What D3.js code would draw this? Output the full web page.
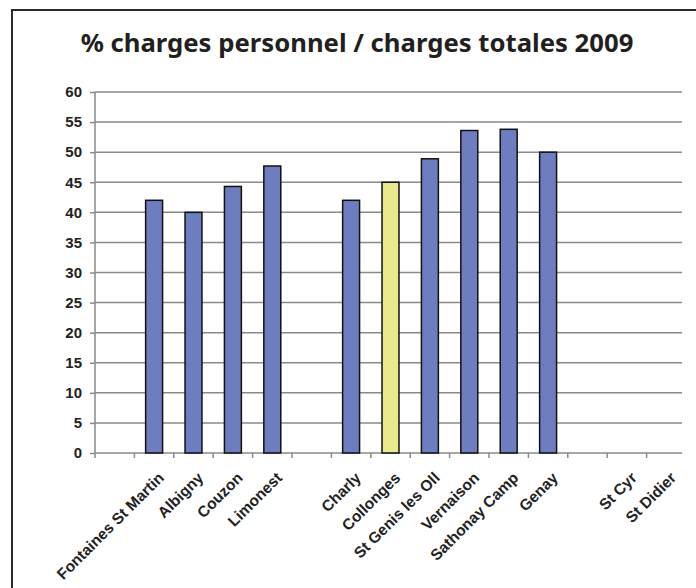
<!DOCTYPE html>
<html>
<head>
<meta charset="utf-8">
<script src="https://cdn.jsdelivr.net/npm/d3@7"></script>
<style>
  html, body { margin: 0; padding: 0; background: #fff; overflow: hidden; }
  svg { display: block; }
</style>
</head>
<body>
<svg></svg>
<script>
const categories = ['', 'Fontaines St Martin', 'Albigny', 'Couzon', 'Limonest', ' ',
  'Charly', 'Collonges', 'St Genis les Oll', 'Vernaison', 'Sathonay Camp', 'Genay', '  ',
  'St Cyr', 'St Didier'];
const values = [null, 42, 40, 44.3, 47.7, null, 42, 45, 48.9, 53.6, 53.8, 50, null, null, null];
const highlighted = ['Collonges'];
const yTicks = [0, 5, 10, 15, 20, 25, 30, 35, 40, 45, 50, 55, 60];

const svg = d3.select('svg')
	.attr('width', 696)
	.attr('height', 588);

const width = +svg.attr('width'),
	height = +svg.attr('height');

const data = categories.map((c, i) => ({ name: c, value: values[i] }));

// outer frame: only left and top edges show, it runs off the page
svg.append('path')
	.attr('d', `M12,${height}V10H${width}`)
	.attr('fill', 'none')
	.attr('stroke', '#2b2b2b')
	.attr('stroke-width', 2);

svg.append('text')
	.attr('x', 357)
	.attr('y', 52)
	.attr('text-anchor', 'middle')
	.attr('font-family', 'Noto Sans')
	.attr('font-weight', 'bold')
	.attr('font-size', 25.7)
	.attr('fill', '#231f20')
	.text('% charges personnel / charges totales 2009');

const margin = { top: 92, left: 95 },
	innerWidth = 591,
	innerHeight = 361;

const xScale = d3.scaleBand()
	.domain(categories)
	.range([0, innerWidth])
	.paddingInner(0.57)
	.paddingOuter(0.285);

const yScale = d3.scaleLinear()
	.domain([0, 60])
	.range([innerHeight, 0]);

const g = svg.append('g')
	.attr('transform', `translate(${margin.left}, ${margin.top})`);

// gridlines
g.selectAll('.grid')
	.data(yTicks.slice(1))
	.enter()
	.append('line')
		.attr('x1', 0)
		.attr('x2', innerWidth - 4)
		.attr('y1', d => yScale(d))
		.attr('y2', d => yScale(d))
		.attr('stroke', '#8a8a8a')
		.attr('stroke-width', 1.5);

const yAxis = d3.axisLeft(yScale)
	.tickValues(yTicks)
	.tickSize(5)
	.tickPadding(8);

const yAxisG = g.append('g').call(yAxis);
yAxisG.selectAll('path, line').attr('stroke', '#8a8a8a').attr('stroke-width', 1.5);
yAxisG.select('.domain').attr('d', `M0,${innerHeight}V0`);
yAxisG.selectAll('text')
	.attr('font-family', 'Liberation Sans, Arial')
	.attr('font-weight', 'bold')
	.attr('font-size', 15)
	.attr('fill', '#222');

// x axis: ticks on band boundaries
const step = xScale.step();
const xAxisG = g.append('g')
	.attr('transform', `translate(0, ${innerHeight})`);

xAxisG.append('line')
	.attr('x1', 0)
	.attr('x2', innerWidth - 4)
	.attr('stroke', '#8a8a8a')
	.attr('stroke-width', 1.5);

xAxisG.selectAll('.tick')
	.data(d3.range(categories.length))
	.enter()
	.append('line')
		.attr('x1', i => i * step)
		.attr('x2', i => i * step)
		.attr('y1', 0)
		.attr('y2', 5)
		.attr('stroke', '#8a8a8a')
		.attr('stroke-width', 1.5);

xAxisG.selectAll('.lbl')
	.data(categories.filter(c => c.trim() !== ''))
	.enter()
	.append('text')
		.attr('transform', c => `translate(${xScale(c) + xScale.bandwidth() / 2 + 3}, 18) rotate(-45)`)
		.attr('text-anchor', 'end')
		.attr('dy', '0.71em')
		.attr('font-family', 'Liberation Sans, Arial')
		.attr('font-weight', 'bold')
		.attr('font-size', 15.5)
		.attr('fill', '#222')
		.text(c => c);

g.selectAll('.bar')
	.data(data.filter(d => d.value != null))
	.enter()
	.append('rect')
		.attr('x', d => xScale(d.name))
		.attr('y', d => yScale(d.value))
		.attr('width', xScale.bandwidth())
		.attr('height', d => innerHeight - yScale(d.value))
		.attr('fill', d => highlighted.includes(d.name) ? '#e8ea8c' : '#6e7cc0')
		.attr('stroke', '#111')
		.attr('stroke-width', 1.5);
</script>
</body>
</html>
